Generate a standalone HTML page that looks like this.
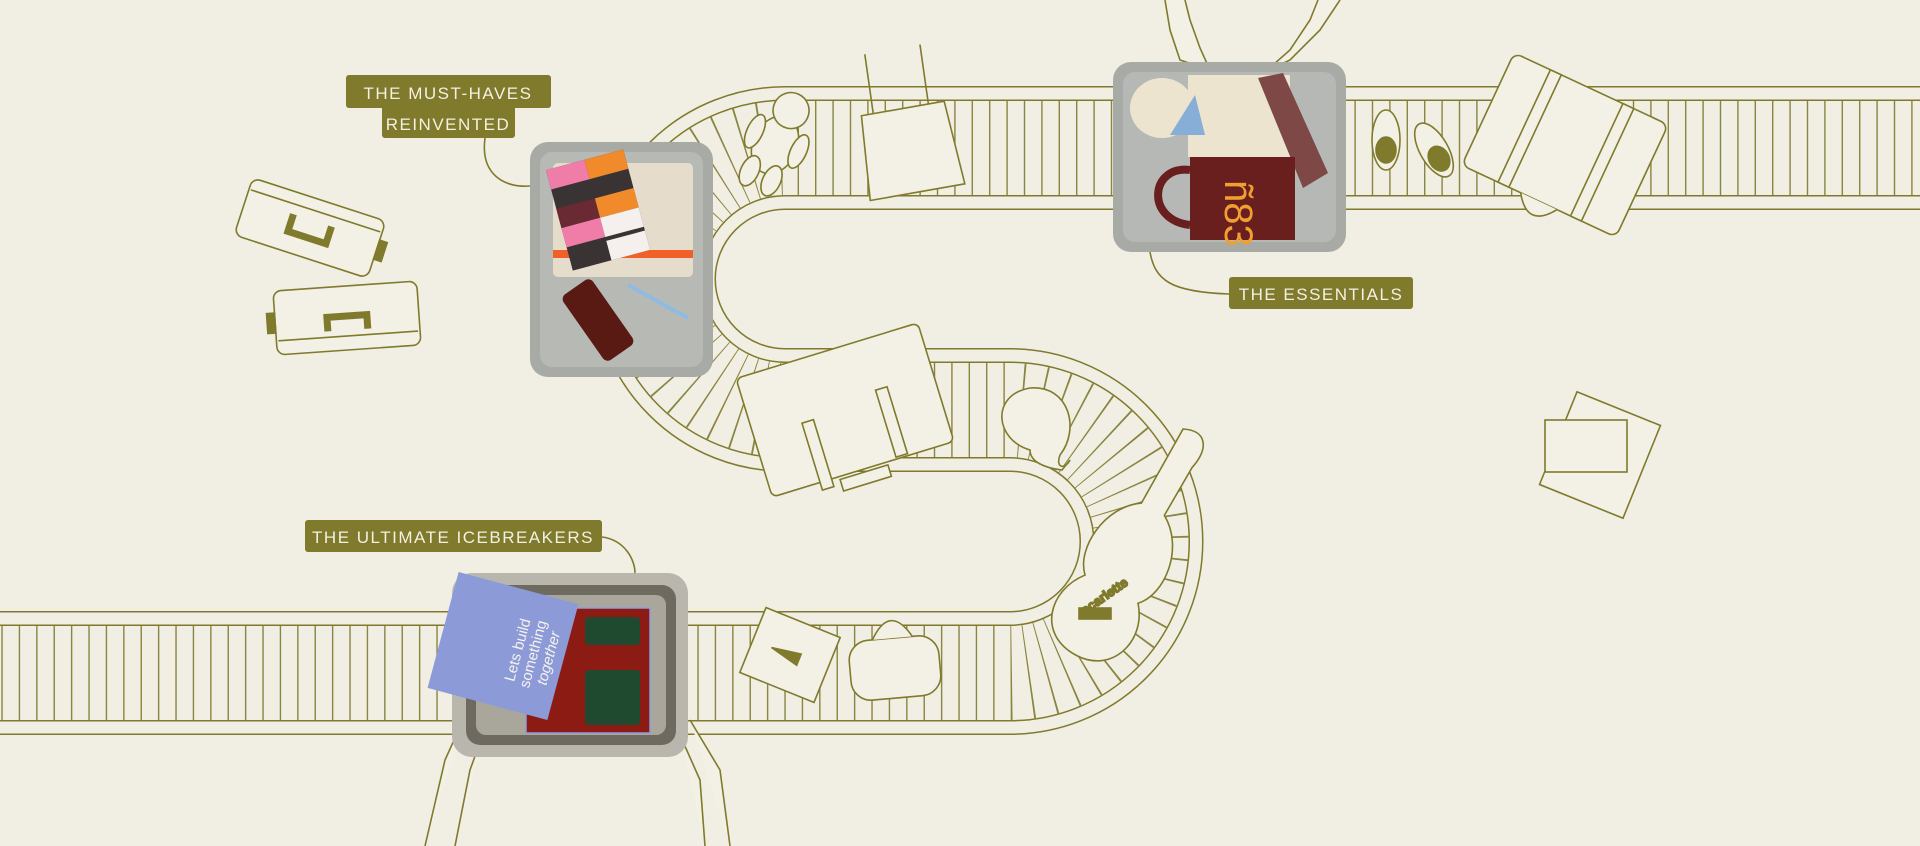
<!DOCTYPE html>
<html><head><meta charset="utf-8"><style>
html,body{margin:0;padding:0;background:#f1eee4;}
svg{display:block}
text{font-family:"Liberation Sans",sans-serif}
</style></head><body>
<svg width="1920" height="846" viewBox="0 0 1920 846" xmlns="http://www.w3.org/2000/svg">
<rect width="1920" height="846" fill="#f1eee4"/>
<defs>
<path id="belt" d="M1930 148 L785 148 A131 131 0 0 0 785 410 L1010 410 A131.5 131.5 0 0 1 1010 673 L-10 673" fill="none"/>
</defs>
<!-- belt -->
<use href="#belt" stroke="#7f7a2c" stroke-width="124"/>
<use href="#belt" stroke="#f1eee4" stroke-width="121"/>
<use href="#belt" stroke="#7f7a2c" stroke-width="97"/>
<use href="#belt" stroke="#f1eee4" stroke-width="94"/>
<use href="#belt" stroke="#8a8540" stroke-width="94" stroke-dasharray="1.4 16"/>

<g fill="none" stroke="#7f7a2c" stroke-width="1.6">
<!-- leader lines -->
<path d="M485 138 C480 175 505 188 530 186"/>
<path d="M1150 252 C1155 280 1170 292 1229 294"/>
<path d="M602 537 C625 540 635 560 635 573"/>
</g>

<!-- left suitcases -->
<g fill="#f3f0e6" stroke="#7f7a2c" stroke-width="1.6">
<g transform="translate(310,228) rotate(18)">
<rect x="-70" y="-30" width="140" height="60" rx="8"/><line x1="-68" y1="-18" x2="68" y2="-18"/>
<rect x="70" y="-10" width="8" height="20" fill="#7f7a2c"/>
<path d="M-20 -8 v18 h40 v-18" stroke-width="7" fill="none"/>
</g>
<g transform="translate(347,318) rotate(-4)">
<rect x="-72" y="-32" width="144" height="64" rx="8"/><line x1="-70" y1="18" x2="70" y2="18"/>
<rect x="-80" y="-10" width="8" height="20" fill="#7f7a2c"/>
<path d="M-20 12 v-14 h40 v14" stroke-width="7" fill="none"/>
</g>
<!-- teddy -->
<g transform="translate(775,145) rotate(25)">
<ellipse cx="0" cy="0" rx="22" ry="30"/><circle cx="0" cy="-38" r="18"/>
<ellipse cx="-24" cy="-4" rx="8" ry="18"/><ellipse cx="24" cy="-4" rx="8" ry="18"/>
<ellipse cx="-12" cy="34" rx="9" ry="16"/><ellipse cx="12" cy="34" rx="9" ry="16"/>
</g>
<!-- tote -->
<g transform="translate(908,138) rotate(-10)">
<path d="M-42 -30 L42 -30 L48 55 L-48 55 Z"/>
<path d="M-30 -30 L-28 -90 M26 -30 L28 -90"/>
</g>
<!-- top right suitcase -->
<g transform="translate(1565,145) rotate(25)">
<rect x="-85" y="-62" width="170" height="124" rx="8"/>
<rect x="-45" y="-62" width="12" height="124"/><rect x="35" y="-62" width="12" height="124"/>
<path d="M-20 62 q20 30 40 0"/>
</g>
<!-- slippers -->
<ellipse cx="1386" cy="140" rx="14" ry="30"/><ellipse cx="1386" cy="150" rx="10" ry="13" fill="#7f7a2c"/>
<g transform="translate(1434,150) rotate(-30)"><ellipse rx="14" ry="30"/><ellipse cy="10" rx="10" ry="13" fill="#7f7a2c"/></g>
<!-- middle suitcase -->
<g transform="translate(845,410) rotate(-17)">
<rect x="-95" y="-62" width="190" height="124" rx="6"/>
<rect x="-45" y="0" width="12" height="70"/><rect x="35" y="-10" width="12" height="70"/>
<path d="M-25 65 h50 v12 h-50z"/>
</g>
<!-- neck pillow -->
<path d="M1030 450 C995 440 990 395 1030 388 C1070 385 1080 430 1060 455 C1055 468 1065 470 1070 460 L1062 470 C1045 468 1030 462 1030 450 Z"/>
<!-- guitar -->
<g transform="translate(1135,545) rotate(28)">
<path d="M-12 -125 C10 -135 20 -120 14 -95 L12 -40 C45 -20 50 30 30 50 C55 80 40 125 0 125 C-45 125 -55 80 -30 50 C-50 30 -45 -20 -14 -40 Z"/>
</g>
<text x="1085" y="615" transform="rotate(-35 1085 615)" fill="#7f7a2c" font-size="13" font-weight="bold">scarlette</text>
<rect x="1079" y="608" width="32" height="11" fill="#7f7a2c"/>
<!-- envelope -->
<g transform="translate(790,655) rotate(22)"><rect x="-40" y="-35" width="80" height="70"/><path d="M-20 0 l30 -5 v12 z" fill="#7f7a2c"/></g>
<!-- duffel -->
<g transform="translate(895,668) rotate(-5)"><rect x="-45" y="-30" width="90" height="60" rx="20"/><path d="M-20 -30 q20 -35 40 0"/></g>
<!-- gift -->
<g transform="translate(1600,455) rotate(22)"><rect x="-45" y="-50" width="90" height="100"/></g>
<rect x="1545" y="420" width="82" height="52"/>
<!-- hands top -->
<path d="M1165 0 L1170 30 L1180 60 L1210 70 L1200 48 L1190 20 L1185 0"/>
<path d="M1340 0 L1320 30 L1290 60 L1265 72 L1290 50 L1310 20 L1318 0"/>
<!-- hands bottom -->
<path d="M470 705 L445 760 L425 846 M490 715 L470 770 L455 846"/>
<path d="M680 735 L700 780 L705 846 M690 720 L720 770 L730 846"/>
</g>

<!-- tray top-left -->
<rect x="530" y="142" width="183" height="235" rx="18" fill="#a7aaa5"/>
<rect x="540" y="152" width="163" height="215" rx="12" fill="#b7b9b5"/>
<rect x="553" y="163" width="140" height="114" rx="5" fill="#e6dccb"/>
<rect x="553" y="250" width="140" height="8" fill="#f0612a"/>
<g transform="translate(598,210) rotate(-15)">
<rect x="-40" y="-52" width="80" height="104" fill="#3a3333"/>
<rect x="-40" y="-52" width="40" height="20" fill="#f07ca8"/><rect x="0" y="-52" width="40" height="20" fill="#f08a2a"/>
<rect x="-40" y="-12" width="40" height="20" fill="#6a2a33"/><rect x="0" y="-12" width="40" height="20" fill="#f08a2a"/>
<rect x="-40" y="8" width="40" height="20" fill="#f07ca8"/><rect x="0" y="8" width="40" height="20" fill="#f5f0ee"/>
<rect x="0" y="32" width="40" height="20" fill="#f5f0ee"/>
</g>
<g transform="translate(598,320) rotate(-35)"><rect x="-18" y="-40" width="36" height="80" rx="6" fill="#5a1a14"/></g>
<line x1="628" y1="285" x2="688" y2="318" stroke="#8fbbe3" stroke-width="4"/>

<!-- tray top-right -->
<rect x="1113" y="62" width="233" height="190" rx="18" fill="#a7aaa5"/>
<rect x="1123" y="72" width="213" height="170" rx="12" fill="#b5b8b5"/>
<rect x="1188" y="75" width="102" height="82" fill="#ece4cf"/>
<ellipse cx="1162" cy="108" rx="32" ry="30" fill="#ece4cf"/>
<path d="M1170 135 l25 -40 l10 40 z" fill="#86aed6"/>
<path d="M1258 78 l25 -5 l45 100 l-25 15 z" fill="#7d4845"/>
<rect x="1190" y="157" width="105" height="83" fill="#6a1f1f"/>
<path d="M1190 170 C1150 165 1145 220 1190 225" fill="none" stroke="#6a1f1f" stroke-width="8"/>
<text x="1225" y="180" transform="rotate(90 1225 180)" fill="#f0a030" font-family="Liberation Serif,serif" font-size="40">ñ83</text>

<!-- tray bottom -->
<rect x="452" y="573" width="236" height="184" rx="20" fill="#b9b7ad"/>
<rect x="466" y="585" width="210" height="160" rx="14" fill="#6e6a60"/>
<rect x="476" y="595" width="190" height="140" rx="10" fill="#a9a69c"/>
<rect x="526" y="608" width="124" height="125" fill="#8c1b14" stroke="#8f9bdc" stroke-width="1.5"/>
<rect x="585" y="617" width="55" height="28" rx="4" fill="#1f4a30"/>
<rect x="585" y="670" width="55" height="55" rx="4" fill="#1f4a30"/>
<g transform="translate(503,646) rotate(15)">
<rect x="-62" y="-60" width="124" height="120" fill="#8d9ad8"/>
<text x="0" y="0" transform="rotate(-90)" fill="#f5f3ee" font-family="Liberation Serif,serif" font-size="15" text-anchor="middle" dy="20">Lets build</text>
<text x="0" y="0" transform="rotate(-90)" fill="#f5f3ee" font-family="Liberation Serif,serif" font-size="15" text-anchor="middle" dy="36">something</text>
<text x="0" y="0" transform="rotate(-90)" fill="#f5f3ee" font-family="Liberation Serif,serif" font-style="italic" font-size="15" text-anchor="middle" dy="52">together</text>
</g>

<!-- labels -->
<g fill="#7f7a2c">
<rect x="346" y="75" width="205" height="33" rx="3"/>
<rect x="382" y="100" width="133" height="38" rx="3"/>
<rect x="1229" y="277" width="184" height="32" rx="3"/>
<rect x="305" y="520" width="297" height="32" rx="3"/>
</g>
<g fill="#f4f0e2" font-size="17" letter-spacing="1.5">
<text x="448" y="99" text-anchor="middle">THE MUST-HAVES</text>
<text x="448" y="130" text-anchor="middle">REINVENTED</text>
<text x="1321" y="300" text-anchor="middle">THE ESSENTIALS</text>
<text x="453" y="543" text-anchor="middle">THE ULTIMATE ICEBREAKERS</text>
</g>
</svg>
</body></html>
